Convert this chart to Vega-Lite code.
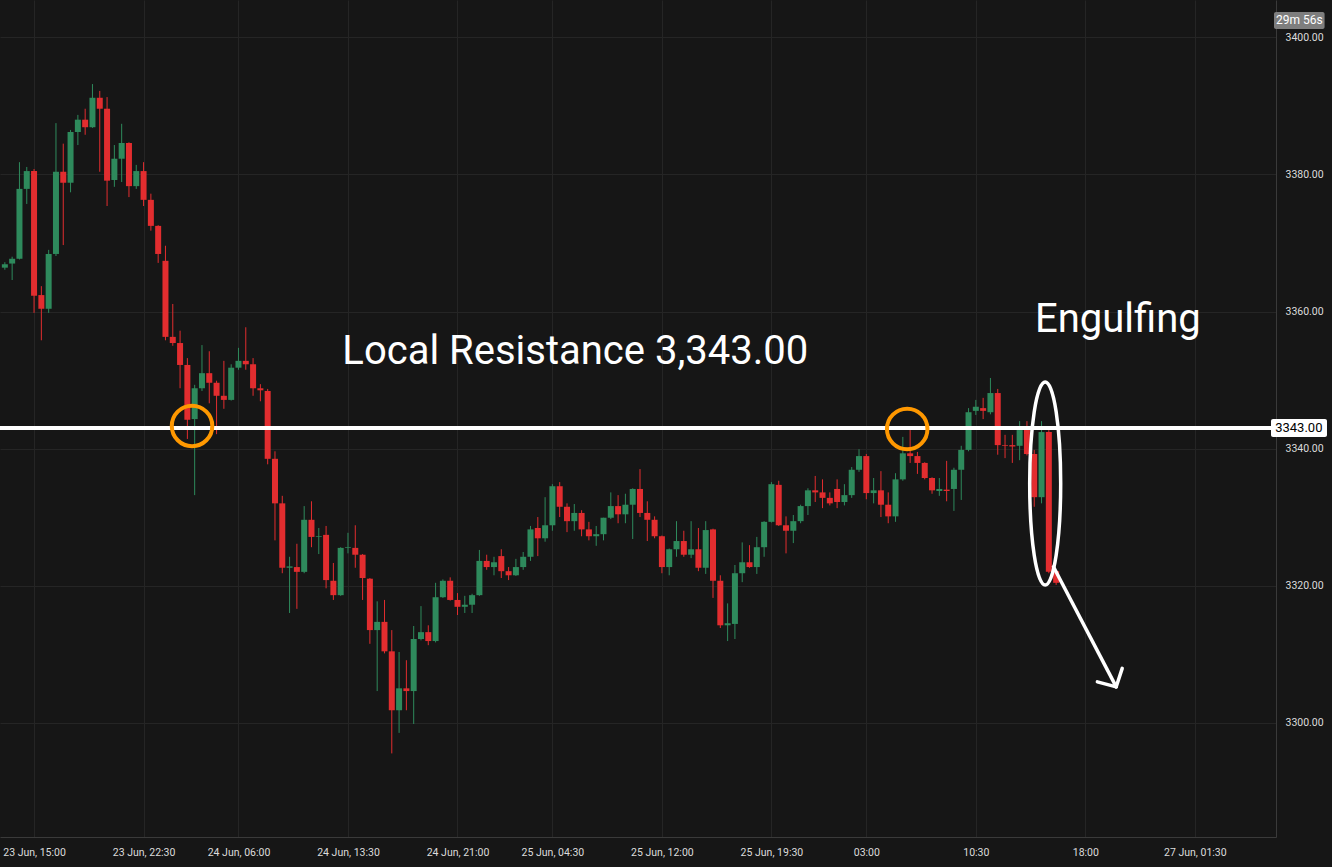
{
  "$schema": "https://vega.github.io/schema/vega-lite/v6.json",
  "width": 1276,
  "height": 837,
  "autosize": {"type": "none"},
  "padding": {"left": 0, "top": 0, "right": 56, "bottom": 30},
  "background": "#161616",
  "config": {
    "view": {"stroke": null},
    "axis": {
      "grid": true,
      "gridColor": "#252525",
      "gridWidth": 1,
      "domainColor": "#3a3a3a",
      "ticks": false,
      "labelColor": "#dcdcdc",
      "labelFont": "Roboto",
      "labelFontSize": 10.5,
      "labelOverlap": false,
      "labelFlush": false
    }
  },
  "datasets": {
    "candles": [
      {"i": -4, "o": 3366.4, "h": 3367.2, "l": 3366.1, "c": 3366.9},
      {"i": -3, "o": 3367.0, "h": 3368.0, "l": 3364.6, "c": 3367.7},
      {"i": -2, "o": 3367.7, "h": 3381.8, "l": 3367.6, "c": 3377.9},
      {"i": -1, "o": 3377.9, "h": 3381.1, "l": 3375.7, "c": 3380.5},
      {"i": 0, "o": 3380.5, "h": 3380.8, "l": 3359.8, "c": 3362.3},
      {"i": 1, "o": 3362.4, "h": 3363.7, "l": 3355.8, "c": 3360.4},
      {"i": 2, "o": 3360.4, "h": 3369.0, "l": 3359.8, "c": 3368.4},
      {"i": 3, "o": 3368.4, "h": 3387.5, "l": 3368.1, "c": 3380.4},
      {"i": 4, "o": 3380.4, "h": 3384.5, "l": 3369.7, "c": 3378.8},
      {"i": 5, "o": 3378.8, "h": 3386.5, "l": 3377.4, "c": 3386.2},
      {"i": 6, "o": 3386.2, "h": 3388.7, "l": 3384.3, "c": 3388.0},
      {"i": 7, "o": 3388.0, "h": 3389.6, "l": 3385.8, "c": 3386.9},
      {"i": 8, "o": 3386.9, "h": 3393.2, "l": 3386.8, "c": 3391.2},
      {"i": 9, "o": 3391.2, "h": 3392.2, "l": 3380.4, "c": 3389.6},
      {"i": 10, "o": 3389.6, "h": 3391.3, "l": 3375.4, "c": 3379.1},
      {"i": 11, "o": 3379.2, "h": 3384.3, "l": 3378.2, "c": 3382.3},
      {"i": 12, "o": 3382.3, "h": 3387.4, "l": 3378.9, "c": 3384.6},
      {"i": 13, "o": 3384.6, "h": 3384.7, "l": 3376.7, "c": 3378.3},
      {"i": 14, "o": 3378.3, "h": 3381.4, "l": 3377.9, "c": 3380.5},
      {"i": 15, "o": 3380.5, "h": 3381.8, "l": 3375.4, "c": 3376.3},
      {"i": 16, "o": 3376.3, "h": 3377.2, "l": 3371.8, "c": 3372.5},
      {"i": 17, "o": 3372.5, "h": 3372.6, "l": 3367.1, "c": 3368.4},
      {"i": 18, "o": 3367.4, "h": 3369.6, "l": 3355.8, "c": 3356.3},
      {"i": 19, "o": 3356.3, "h": 3361.1, "l": 3355.0, "c": 3355.4},
      {"i": 20, "o": 3355.4, "h": 3357.2, "l": 3348.8, "c": 3352.2},
      {"i": 21, "o": 3352.2, "h": 3353.2, "l": 3341.4, "c": 3344.2},
      {"i": 22, "o": 3344.3, "h": 3349.3, "l": 3333.2, "c": 3348.8},
      {"i": 23, "o": 3348.8, "h": 3355.1, "l": 3348.4, "c": 3351.0},
      {"i": 24, "o": 3351.0, "h": 3354.2, "l": 3346.6, "c": 3349.6},
      {"i": 25, "o": 3349.6, "h": 3349.9, "l": 3342.1, "c": 3347.7},
      {"i": 26, "o": 3347.7, "h": 3352.8, "l": 3345.8, "c": 3347.1},
      {"i": 27, "o": 3347.1, "h": 3352.3, "l": 3347.0, "c": 3351.8},
      {"i": 28, "o": 3351.8, "h": 3354.7, "l": 3351.5, "c": 3352.8},
      {"i": 29, "o": 3352.8, "h": 3357.7, "l": 3351.5, "c": 3352.3},
      {"i": 30, "o": 3352.3, "h": 3353.2, "l": 3347.7, "c": 3348.8},
      {"i": 31, "o": 3348.8, "h": 3349.4, "l": 3346.9, "c": 3348.5},
      {"i": 32, "o": 3348.4, "h": 3348.7, "l": 3337.7, "c": 3338.5},
      {"i": 33, "o": 3338.5, "h": 3339.6, "l": 3326.6, "c": 3332.0},
      {"i": 34, "o": 3332.0, "h": 3333.1, "l": 3321.8, "c": 3322.6},
      {"i": 35, "o": 3322.6, "h": 3324.2, "l": 3316.0, "c": 3322.8},
      {"i": 36, "o": 3322.7, "h": 3326.1, "l": 3316.6, "c": 3322.0},
      {"i": 37, "o": 3322.0, "h": 3331.6, "l": 3321.8, "c": 3329.6},
      {"i": 38, "o": 3329.6, "h": 3332.3, "l": 3325.6, "c": 3327.1},
      {"i": 39, "o": 3327.1, "h": 3328.4, "l": 3324.6, "c": 3327.2},
      {"i": 40, "o": 3327.4, "h": 3328.7, "l": 3319.6, "c": 3320.8},
      {"i": 41, "o": 3320.7, "h": 3323.3, "l": 3317.9, "c": 3318.6},
      {"i": 42, "o": 3318.6, "h": 3325.6, "l": 3318.5, "c": 3325.5},
      {"i": 43, "o": 3325.5, "h": 3327.7, "l": 3324.7, "c": 3325.6},
      {"i": 44, "o": 3325.5, "h": 3328.8, "l": 3322.6, "c": 3324.5},
      {"i": 45, "o": 3324.5, "h": 3324.6, "l": 3317.9, "c": 3321.1},
      {"i": 46, "o": 3321.0, "h": 3321.1, "l": 3311.5, "c": 3313.5},
      {"i": 47, "o": 3313.5, "h": 3317.7, "l": 3304.6, "c": 3314.7},
      {"i": 48, "o": 3314.7, "h": 3317.9, "l": 3310.1, "c": 3310.4},
      {"i": 49, "o": 3310.4, "h": 3313.5, "l": 3295.5, "c": 3301.8},
      {"i": 50, "o": 3301.8, "h": 3310.3, "l": 3298.5, "c": 3305.0},
      {"i": 51, "o": 3305.0, "h": 3309.1, "l": 3301.8, "c": 3304.6},
      {"i": 52, "o": 3304.6, "h": 3314.1, "l": 3299.8, "c": 3312.2},
      {"i": 53, "o": 3312.2, "h": 3317.0, "l": 3312.0, "c": 3313.2},
      {"i": 54, "o": 3313.2, "h": 3314.2, "l": 3311.3, "c": 3311.9},
      {"i": 55, "o": 3311.9, "h": 3320.4, "l": 3311.7, "c": 3318.3},
      {"i": 56, "o": 3318.3, "h": 3320.9, "l": 3318.2, "c": 3320.7},
      {"i": 57, "o": 3320.7, "h": 3321.2, "l": 3317.8, "c": 3317.9},
      {"i": 58, "o": 3317.9, "h": 3318.9, "l": 3315.7, "c": 3316.9},
      {"i": 59, "o": 3316.9, "h": 3318.5, "l": 3316.0, "c": 3317.2},
      {"i": 60, "o": 3317.2, "h": 3318.8, "l": 3316.0, "c": 3318.6},
      {"i": 61, "o": 3318.6, "h": 3325.2, "l": 3318.5, "c": 3323.6},
      {"i": 62, "o": 3323.6, "h": 3324.5, "l": 3322.3, "c": 3322.7},
      {"i": 63, "o": 3322.7, "h": 3324.2, "l": 3321.5, "c": 3323.4},
      {"i": 64, "o": 3324.3, "h": 3325.3, "l": 3321.1, "c": 3322.1},
      {"i": 65, "o": 3322.1, "h": 3322.7, "l": 3320.8, "c": 3321.5},
      {"i": 66, "o": 3321.5, "h": 3323.9, "l": 3321.4, "c": 3322.7},
      {"i": 67, "o": 3322.7, "h": 3324.9, "l": 3322.3, "c": 3324.2},
      {"i": 68, "o": 3324.2, "h": 3328.7, "l": 3323.6, "c": 3328.2},
      {"i": 69, "o": 3328.4, "h": 3330.0, "l": 3324.3, "c": 3326.9},
      {"i": 70, "o": 3326.9, "h": 3332.9, "l": 3326.4, "c": 3328.8},
      {"i": 71, "o": 3328.8, "h": 3334.8, "l": 3328.0, "c": 3334.5},
      {"i": 72, "o": 3334.5, "h": 3335.1, "l": 3330.0, "c": 3331.5},
      {"i": 73, "o": 3331.5, "h": 3332.0, "l": 3327.8, "c": 3329.4},
      {"i": 74, "o": 3329.4, "h": 3331.9, "l": 3328.0, "c": 3330.6},
      {"i": 75, "o": 3330.6, "h": 3331.0, "l": 3327.2, "c": 3328.2},
      {"i": 76, "o": 3328.2, "h": 3329.3, "l": 3326.6, "c": 3327.2},
      {"i": 77, "o": 3327.2, "h": 3328.7, "l": 3325.8, "c": 3327.5},
      {"i": 78, "o": 3327.5, "h": 3329.9, "l": 3326.6, "c": 3329.9},
      {"i": 79, "o": 3329.9, "h": 3333.6, "l": 3329.7, "c": 3331.6},
      {"i": 80, "o": 3331.6, "h": 3333.2, "l": 3329.1, "c": 3330.4},
      {"i": 81, "o": 3330.4, "h": 3333.4, "l": 3329.1, "c": 3331.8},
      {"i": 82, "o": 3331.8, "h": 3334.2, "l": 3326.8, "c": 3334.1},
      {"i": 83, "o": 3334.1, "h": 3337.0, "l": 3330.0, "c": 3330.6},
      {"i": 84, "o": 3330.6, "h": 3332.3, "l": 3326.5, "c": 3329.6},
      {"i": 85, "o": 3329.6, "h": 3330.1, "l": 3326.9, "c": 3327.2},
      {"i": 86, "o": 3327.2, "h": 3327.3, "l": 3321.8, "c": 3322.7},
      {"i": 87, "o": 3322.7, "h": 3325.4, "l": 3321.5, "c": 3325.3},
      {"i": 88, "o": 3325.3, "h": 3329.4, "l": 3324.2, "c": 3326.5},
      {"i": 89, "o": 3326.5, "h": 3328.0, "l": 3324.2, "c": 3324.5},
      {"i": 90, "o": 3324.5, "h": 3329.4, "l": 3324.0, "c": 3325.3},
      {"i": 91, "o": 3325.3, "h": 3328.4, "l": 3322.1, "c": 3322.6},
      {"i": 92, "o": 3322.6, "h": 3329.4, "l": 3321.7, "c": 3328.1},
      {"i": 93, "o": 3328.2, "h": 3328.3, "l": 3318.2, "c": 3320.7},
      {"i": 94, "o": 3320.7, "h": 3321.5, "l": 3313.8, "c": 3314.2},
      {"i": 95, "o": 3314.2, "h": 3317.4, "l": 3311.9, "c": 3314.5},
      {"i": 96, "o": 3314.4, "h": 3323.0, "l": 3312.2, "c": 3321.8},
      {"i": 97, "o": 3321.8, "h": 3326.3, "l": 3320.5, "c": 3323.4},
      {"i": 98, "o": 3323.4, "h": 3325.9, "l": 3322.6, "c": 3322.7},
      {"i": 99, "o": 3322.7, "h": 3327.1, "l": 3321.7, "c": 3325.6},
      {"i": 100, "o": 3325.6, "h": 3329.4, "l": 3324.2, "c": 3329.3},
      {"i": 101, "o": 3329.3, "h": 3335.1, "l": 3329.2, "c": 3334.8},
      {"i": 102, "o": 3334.7, "h": 3335.3, "l": 3328.7, "c": 3328.8},
      {"i": 103, "o": 3328.8, "h": 3330.1, "l": 3324.7, "c": 3328.0},
      {"i": 104, "o": 3328.0, "h": 3330.3, "l": 3326.2, "c": 3329.4},
      {"i": 105, "o": 3329.4, "h": 3331.8, "l": 3329.1, "c": 3331.6},
      {"i": 106, "o": 3331.6, "h": 3334.2, "l": 3330.3, "c": 3333.9},
      {"i": 107, "o": 3333.9, "h": 3336.0, "l": 3332.2, "c": 3333.6},
      {"i": 108, "o": 3333.6, "h": 3335.5, "l": 3331.3, "c": 3332.8},
      {"i": 109, "o": 3332.8, "h": 3333.6, "l": 3331.7, "c": 3332.0},
      {"i": 110, "o": 3334.1, "h": 3335.5, "l": 3331.3, "c": 3332.2},
      {"i": 111, "o": 3332.2, "h": 3334.8, "l": 3331.7, "c": 3333.2},
      {"i": 112, "o": 3333.2, "h": 3337.3, "l": 3332.8, "c": 3336.9},
      {"i": 113, "o": 3336.9, "h": 3339.9, "l": 3336.6, "c": 3338.9},
      {"i": 114, "o": 3338.9, "h": 3339.2, "l": 3332.6, "c": 3333.5},
      {"i": 115, "o": 3333.5, "h": 3335.7, "l": 3332.0, "c": 3333.9},
      {"i": 116, "o": 3333.9, "h": 3336.7, "l": 3330.0, "c": 3331.8},
      {"i": 117, "o": 3331.8, "h": 3333.6, "l": 3329.1, "c": 3330.1},
      {"i": 118, "o": 3330.1, "h": 3336.4, "l": 3329.3, "c": 3335.5},
      {"i": 119, "o": 3335.5, "h": 3341.7, "l": 3335.3, "c": 3339.3},
      {"i": 120, "o": 3339.3, "h": 3342.7, "l": 3337.9, "c": 3338.9},
      {"i": 121, "o": 3338.9, "h": 3339.5, "l": 3336.3, "c": 3337.9},
      {"i": 122, "o": 3337.9, "h": 3338.0, "l": 3335.5, "c": 3335.7},
      {"i": 123, "o": 3335.7, "h": 3335.8, "l": 3333.4, "c": 3333.9},
      {"i": 124, "o": 3333.8, "h": 3335.7, "l": 3333.1, "c": 3334.1},
      {"i": 125, "o": 3334.0, "h": 3338.2, "l": 3332.3, "c": 3333.8},
      {"i": 126, "o": 3334.1, "h": 3337.2, "l": 3330.9, "c": 3336.9},
      {"i": 127, "o": 3336.9, "h": 3340.4, "l": 3332.5, "c": 3339.8},
      {"i": 128, "o": 3339.8, "h": 3345.9, "l": 3339.6, "c": 3345.3},
      {"i": 129, "o": 3345.5, "h": 3347.1, "l": 3344.9, "c": 3346.1},
      {"i": 130, "o": 3345.9, "h": 3347.4, "l": 3344.3, "c": 3345.5},
      {"i": 131, "o": 3345.3, "h": 3350.3, "l": 3345.0, "c": 3348.1},
      {"i": 132, "o": 3348.1, "h": 3348.7, "l": 3339.1, "c": 3340.5},
      {"i": 133, "o": 3340.5, "h": 3342.0, "l": 3338.6, "c": 3340.4},
      {"i": 134, "o": 3340.5, "h": 3342.0, "l": 3337.9, "c": 3340.3},
      {"i": 135, "o": 3340.4, "h": 3344.0, "l": 3338.3, "c": 3342.7},
      {"i": 136, "o": 3342.7, "h": 3344.0, "l": 3339.0, "c": 3339.2},
      {"i": 137, "o": 3339.2, "h": 3339.8, "l": 3331.5, "c": 3332.9},
      {"i": 138, "o": 3332.9, "h": 3344.0, "l": 3332.0, "c": 3342.4},
      {"i": 139, "o": 3342.4, "h": 3342.7, "l": 3321.8, "c": 3322.0},
      {"i": 140, "o": 3322.1, "h": 3322.2, "l": 3320.1, "c": 3320.4}
    ]
  },
  "layer": [
    {
      "data": {"name": "candles"},
      "mark": {"type": "rule", "strokeWidth": 1},
      "encoding": {
        "x": {"field": "i", "type": "quantitative", "title": null,
          "scale": {"domain": [-3.98, 169.43], "nice": false, "zero": false},
          "axis": {
            "orient": "bottom",
            "title": null,
            "values": [0, 15, 28, 43, 58, 71, 86, 101, 114, 129, 144, 159],
            "labelExpr": "['23 Jun, 15:00','23 Jun, 22:30','24 Jun, 06:00','24 Jun, 13:30','24 Jun, 21:00','25 Jun, 04:30','25 Jun, 12:00','25 Jun, 19:30','03:00','10:30','18:00','27 Jun, 01:30'][indexof([0,15,28,43,58,71,86,101,114,129,144,159], datum.value)]",
            "labelPadding": 10,
            "labelAlign": "center"
          }
        },
        "y": {"field": "l", "type": "quantitative", "title": null,
          "scale": {"domain": [3283.3, 3405.47], "nice": false, "zero": false},
          "axis": {
            "orient": "right",
            "title": null,
            "values": [3300, 3320, 3340, 3360, 3380, 3400],
            "format": ".2f",
            "labelPadding": 9,
            "labelAlign": "left"
          }
        },
        "y2": {"field": "h"},
        "color": {"condition": {"test": "datum.c < datum.o", "value": "#e22d2f"}, "value": "#2e8a5c"}
      }
    },
    {
      "data": {"name": "candles"},
      "mark": {"type": "bar", "size": 6},
      "encoding": {
        "x": {"field": "i", "type": "quantitative", "title": null, "scale": {"domain": [-3.98, 169.43], "nice": false, "zero": false}},
        "y": {"field": "o", "type": "quantitative", "title": null, "scale": {"domain": [3283.3, 3405.47], "nice": false, "zero": false}},
        "y2": {"field": "c"},
        "color": {"condition": {"test": "datum.c < datum.o", "value": "#e22d2f"}, "value": "#2e8a5c"}
      }
    },
    {
      "data": {"values": [{"p": 3343.0}]},
      "mark": {"type": "rule", "color": "#ffffff", "strokeWidth": 4},
      "encoding": {
        "y": {"field": "p", "type": "quantitative", "title": null, "scale": {"domain": [3283.3, 3405.47], "nice": false, "zero": false}}
      }
    },
    {
      "data": {"values": [{"i": 21.64, "p": 3343.3}, {"i": 119.6, "p": 3342.85}]},
      "mark": {"type": "point", "shape": "circle", "filled": false, "size": 1640, "stroke": "#ff9800", "strokeWidth": 4, "opacity": 1},
      "encoding": {
        "x": {"field": "i", "type": "quantitative", "title": null, "scale": {"domain": [-3.98, 169.43], "nice": false, "zero": false}},
        "y": {"field": "p", "type": "quantitative", "title": null, "scale": {"domain": [3283.3, 3405.47], "nice": false, "zero": false}}
      }
    },
    {
      "data": {"values": [{"i": 138.5, "p": 3334.9}]},
      "mark": {"type": "point", "shape": "M0,-1C0.0843,-1,0.1527,-0.5523,0.1527,0C0.1527,0.5523,0.0843,1,0,1C-0.0843,1,-0.1527,0.5523,-0.1527,0C-0.1527,-0.5523,-0.0843,-1,0,-1Z", "filled": false, "size": 41209, "stroke": "#ffffff", "strokeWidth": 3.5, "opacity": 1},
      "encoding": {
        "x": {"field": "i", "type": "quantitative", "title": null, "scale": {"domain": [-3.98, 169.43], "nice": false, "zero": false}},
        "y": {"field": "p", "type": "quantitative", "title": null, "scale": {"domain": [3283.3, 3405.47], "nice": false, "zero": false}}
      }
    },
    {
      "data": {"values": [
        {"x1": 139.63, "y1": 3322.74, "x2": 148.23, "y2": 3305.22},
        {"x1": 148.23, "y1": 3305.22, "x2": 145.65, "y2": 3305.95},
        {"x1": 148.23, "y1": 3305.22, "x2": 149.05, "y2": 3307.91}
      ]},
      "mark": {"type": "rule", "color": "#ffffff", "strokeWidth": 3.5, "strokeCap": "round"},
      "encoding": {
        "x": {"field": "x1", "type": "quantitative", "title": null, "scale": {"domain": [-3.98, 169.43], "nice": false, "zero": false}},
        "y": {"field": "y1", "type": "quantitative", "title": null, "scale": {"domain": [3283.3, 3405.47], "nice": false, "zero": false}},
        "x2": {"field": "x2"},
        "y2": {"field": "y2"}
      }
    },
    {
      "data": {"values": [
        {"i": 42.23, "p": 3352.3, "t": "Local Resistance 3,343.00"},
        {"i": 137.09, "p": 3357.0, "t": "Engulfing"}
      ]},
      "mark": {"type": "text", "align": "left", "baseline": "alphabetic", "font": "Roboto", "fontSize": 40, "color": "#ffffff"},
      "encoding": {
        "x": {"field": "i", "type": "quantitative", "title": null, "scale": {"domain": [-3.98, 169.43], "nice": false, "zero": false}},
        "y": {"field": "p", "type": "quantitative", "title": null, "scale": {"domain": [3283.3, 3405.47], "nice": false, "zero": false}},
        "text": {"field": "t"}
      }
    },
    {
      "data": {"values": [
        {"x1": 169.84, "x2": 176.77, "y1": 3403.73, "y2": 3401.25, "fill": "#7e7e7e"},
        {"x1": 169.43, "x2": 177.1, "y1": 3344.31, "y2": 3341.68, "fill": "#ffffff"}
      ]},
      "mark": {"type": "rect", "cornerRadius": 2},
      "encoding": {
        "x": {"field": "x1", "type": "quantitative", "title": null, "scale": {"domain": [-3.98, 169.43], "nice": false, "zero": false}},
        "y": {"field": "y1", "type": "quantitative", "title": null, "scale": {"domain": [3283.3, 3405.47], "nice": false, "zero": false}},
        "x2": {"field": "x2"},
        "y2": {"field": "y2"},
        "fill": {"field": "fill", "type": "nominal", "scale": null}
      }
    },
    {
      "data": {"values": [
        {"i": 173.31, "p": 3402.49, "t": "29m 56s", "col": "#ffffff", "fs": 12},
        {"i": 173.24, "p": 3343.0, "t": "3343.00", "col": "#000000", "fs": 13}
      ]},
      "mark": {"type": "text", "align": "center", "baseline": "middle", "font": "Roboto"},
      "encoding": {
        "x": {"field": "i", "type": "quantitative", "title": null, "scale": {"domain": [-3.98, 169.43], "nice": false, "zero": false}},
        "y": {"field": "p", "type": "quantitative", "title": null, "scale": {"domain": [3283.3, 3405.47], "nice": false, "zero": false}},
        "text": {"field": "t"},
        "color": {"field": "col", "type": "nominal", "scale": null},
        "size": {"field": "fs", "type": "quantitative", "scale": null}
      }
    }
  ]
}
